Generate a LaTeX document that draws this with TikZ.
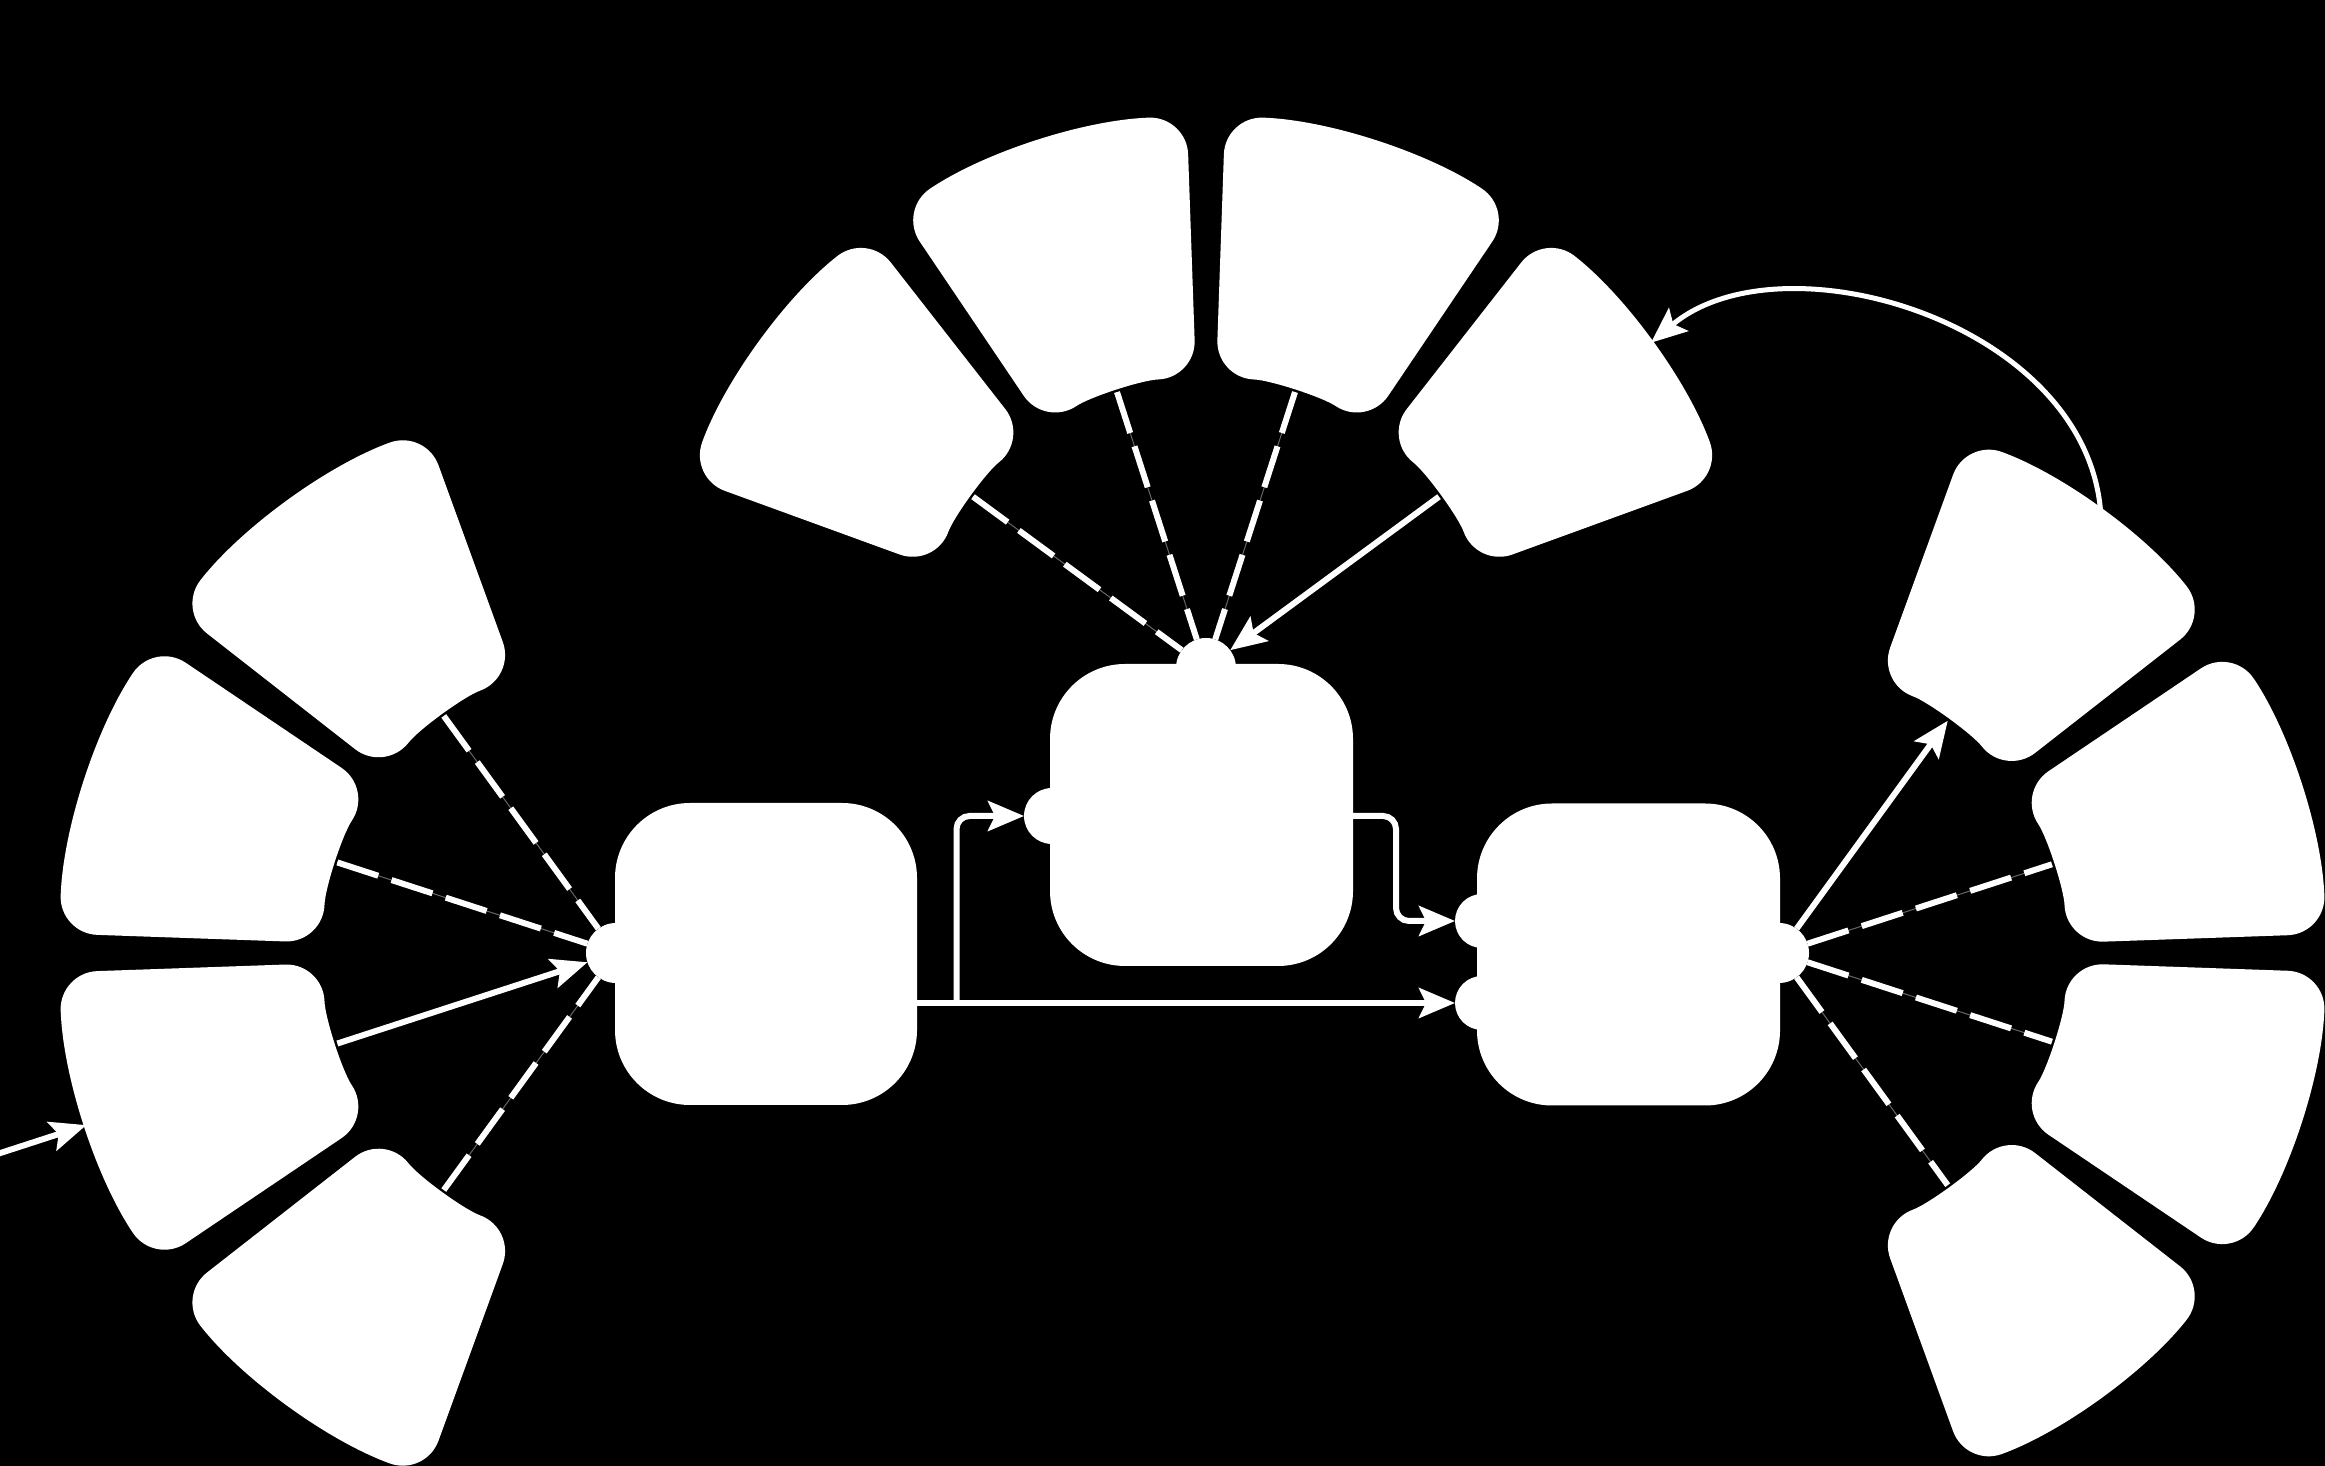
\documentclass[tikz,border=0pt]{standalone}
\usetikzlibrary{arrows.meta,calc}
\tikzset{
  sectorfill/.style={fill=white, rounded corners=38pt},
  boxnode/.style={fill=white, rectangle, rounded corners=75pt, minimum width=302pt, minimum height=302pt, inner sep=0pt, outer sep=0pt},
  portnode/.style={fill=white, circle, inner sep=0pt, outer sep=0pt, minimum size=60pt},
  conn/.style={draw=white, line width=6pt},
  arr/.style={-{Stealth[length=36pt, width=30pt, inset=7pt]}},
  dashline/.style={draw=white, line width=6pt, dash pattern=on 43pt off 14pt,
    preaction={draw=black!60, line width=1pt, solid}},
}
\newcommand\fansector[5]{%
  \fill[sectorfill, shift={(#1)}] (#2:#5) arc[start angle=#2, end angle=#3, radius=#5]
    -- (#3:#4) arc[start angle=#3, end angle=#2, radius=#4] -- cycle;}
\begin{document}
\begin{tikzpicture}[x=1pt, y=1pt]
  \fill[black] (0,0) rectangle (2325,1466);
  \useasboundingbox (0,0) rectangle (2325,1466);

  % fan centres
  \coordinate (cL) at (616,513);
  \coordinate (cT) at (1206,800);
  \coordinate (cR) at (1779,513);

  % left fan
  \fansector{cL}{110}{142}{293}{557}
  \fansector{cL}{146}{178}{293}{557}
  \fansector{cL}{182}{214}{293}{557}
  \fansector{cL}{218}{250}{293}{557}
  % top fan
  \fansector{cT}{128}{160}{288}{550}
  \fansector{cT}{92}{124}{288}{550}
  \fansector{cT}{56}{88}{288}{550}
  \fansector{cT}{20}{52}{288}{550}
  % right fan
  \fansector{cR}{38}{70}{287}{547}
  \fansector{cR}{2}{34}{287}{547}
  \fansector{cR}{-34}{-2}{287}{547}
  \fansector{cR}{-70}{-38}{287}{547}

  % sector anchor points
  \path (cL) ++(126:293) coordinate (l1);
  \path (cL) ++(162:293) coordinate (l2);
  \path (cL) ++(198:293) coordinate (l3);
  \path (cL) ++(234:293) coordinate (l4);
  \path (cL) ++(198:557) coordinate (l3o);
  \path (cL) ++(198:660) coordinate (in0);
  \path (cT) ++(144:288) coordinate (t1);
  \path (cT) ++(108:288) coordinate (t2);
  \path (cT) ++(72:288) coordinate (t3);
  \path (cT) ++(36:288) coordinate (t4);
  \path (cT) ++(36:550) coordinate (t4o);
  \path (cR) ++(54:287) coordinate (r1);
  \path (cR) ++(54:547) coordinate (r1o);
  \path (cR) ++(18:287) coordinate (r2);
  \path (cR) ++(-18:287) coordinate (r3);
  \path (cR) ++(-54:287) coordinate (r4);

  % boxes
  \node[boxnode] (A) at (766,512) {};
  \node[boxnode, minimum width=303pt] (B) at (1201.5,651) {};
  \node[boxnode, minimum width=303pt] (C) at (1628.5,511.5) {};

  % ports
  \node[portnode] (pA) at (cL) {};
  \node[portnode] (pBt) at (1206,798) {};
  \node[portnode, minimum size=56pt] (pBl) at (1052,650) {};
  \node[portnode, minimum size=54pt] (pCu) at (1482,545) {};
  \node[portnode, minimum size=54pt] (pCl) at (1482,463) {};
  \node[portnode] (pCr) at (cR) {};

  % left fan connectors
  \draw[dashline] (l1) -- (pA);
  \draw[dashline] (l2) -- (pA);
  \draw[conn, arr] (l3) -- (pA);
  \draw[dashline] (l4) -- (pA);
  \draw[conn, arr] (in0) -- (l3o);

  % top fan connectors
  \draw[dashline] (t1) -- (pBt);
  \draw[dashline] (t2) -- (pBt);
  \draw[dashline] (t3) -- (pBt);
  \draw[conn, arr] (t4) -- (pBt);

  % right fan connectors
  \draw[conn, arr] (pCr) -- (r1);
  \draw[dashline] (pCr) -- (r2);
  \draw[dashline] (pCr) -- (r3);
  \draw[dashline] (pCr) -- (r4);

  % curved arrow
  \draw[conn, line width=5pt, arr] (r1o) .. controls ($(r1o)+(95:190)$) and ($(t4o)+(40:170)$) .. (t4o);

  % box connectors
  \coordinate (aout) at (A.east |- pCl);
  \coordinate (bx) at (956.5,463);
  \coordinate (bout) at (B.east |- pBl);
  \coordinate (cx) at (1396,650);
  \draw[conn, arr] (aout) -- (pCl);
  \draw[conn, arr, rounded corners=13pt] (bx) |- (pBl);
  \draw[conn, arr, rounded corners=13pt] (bout) -- (cx) |- (pCu);
\end{tikzpicture}
\end{document}
